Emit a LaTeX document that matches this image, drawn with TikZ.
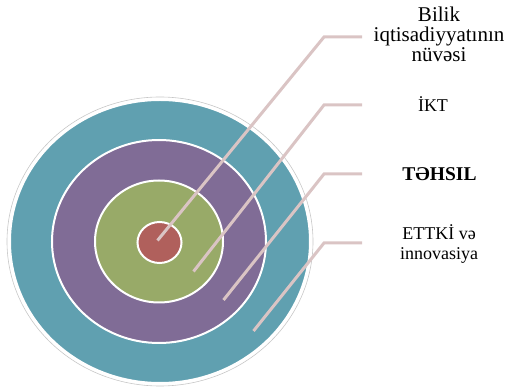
\documentclass[tikz,border=0pt]{standalone}
\usepackage{fontspec}
\setmainfont{Liberation Serif}
\usetikzlibrary{shapes.geometric}
\definecolor{ringteal}{HTML}{60A0B0}
\definecolor{ringpurple}{HTML}{806C96}
\definecolor{ringgreen}{HTML}{98AA68}
\definecolor{ringred}{HTML}{B0605C}
\definecolor{connpink}{HTML}{DAC4C4}
\tikzset{
  ring/.style={ellipse, draw=white, line width=2pt, inner sep=0pt, outer sep=0pt},
  conn/.style={draw=connpink, line width=3pt, line cap=butt, line join=miter},
  lbl/.style={font=\fontsize{18}{20}\selectfont, align=center, inner sep=0pt, anchor=base}
}
\begin{document}
\begin{tikzpicture}[x=1pt,y=-1pt]
\useasboundingbox (0,0) rectangle (507,387);
% rings
\node[ellipse, draw=black!22, line width=0.6pt, minimum width=306pt, minimum height=289pt, inner sep=0pt] (halo) at (160,241.5) {};
\node[ring, fill=ringteal, minimum width=300pt, minimum height=283pt] (outer) at (160,241.5) {};
\node[ring, fill=ringpurple, minimum width=214pt, minimum height=203pt] (mid) at (159,241.5) {};
\node[ring, fill=ringgreen, minimum width=128pt, minimum height=122pt] (inner) at (159,241.5) {};
\node[ring, fill=ringred, minimum width=44pt, minimum height=41pt] (core) at (159.5,242.5) {};
% connector points
\coordinate (s1) at (157.5,240.5);
\coordinate (k1) at (324,37);
\coordinate (h1) at (362,37);
\coordinate (s2) at (193.5,271.5);
\coordinate (k2) at (324,105);
\coordinate (h2) at (362,105);
\coordinate (s3) at (223.5,300);
\coordinate (k3) at (324,174);
\coordinate (h3) at (362,174);
\coordinate (s4) at (253.5,331);
\coordinate (k4) at (324,243);
\coordinate (h4) at (362,243);
\draw[conn] (s1) -- (k1) -- (h1);
\draw[conn] (s2) -- (k2) -- (h2);
\draw[conn] (s3) -- (k3) -- (h3);
\draw[conn] (s4) -- (k4) -- (h4);
% labels
\node[lbl, font=\fontsize{21}{20}\selectfont] (t1) at (439,62) {Bilik\\iqtisadiyyatının\\nüvəsi};
\node[lbl] (t2) at (433,112) {İKT};
\node[lbl, font=\fontsize{19.5}{20}\selectfont\bfseries] (t3) at (439.5,181) {TƏHSIL};
\node[lbl] (t4) at (439,260) {ETTKİ və\\innovasiya};
\end{tikzpicture}
\end{document}
